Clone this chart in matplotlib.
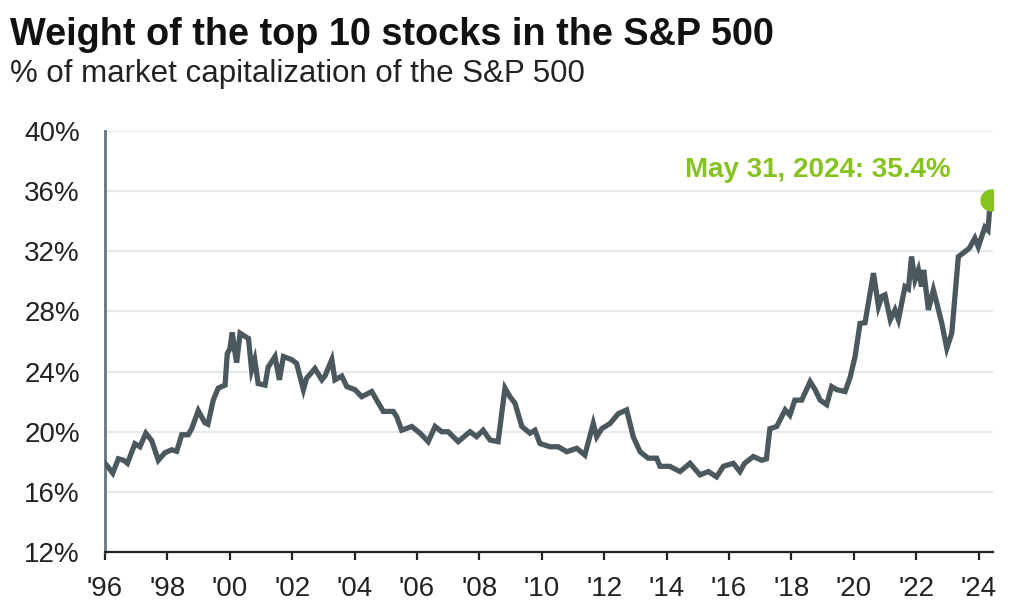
import matplotlib
matplotlib.use('Agg')
import matplotlib.pyplot as plt
import numpy as np

plt.rcParams['font.family'] = ['Liberation Sans', 'DejaVu Sans']

# decimal year / weight of top 10 stocks (% of S&P 500 market cap)
years = [1996.00, 1996.12, 1996.25, 1996.43, 1996.60, 1996.72, 1996.96, 1997.12, 1997.31, 1997.50,
         1997.71, 1997.92, 1998.14, 1998.30, 1998.46, 1998.67, 1998.78, 1998.99, 1999.20, 1999.30,
         1999.47, 1999.63, 1999.85, 1999.92, 2000.00, 2000.08, 2000.15, 2000.22, 2000.33, 2000.44,
         2000.60, 2000.70, 2000.80, 2000.91, 2001.13, 2001.23, 2001.45, 2001.59, 2001.72, 2001.98,
         2002.14, 2002.36, 2002.46, 2002.73, 2002.95, 2003.05, 2003.27, 2003.37, 2003.59, 2003.75,
         2004.01, 2004.23, 2004.55, 2004.71, 2004.92, 2005.24, 2005.35, 2005.51, 2005.83, 2006.10,
         2006.36, 2006.58, 2006.79, 2007.00, 2007.32, 2007.70, 2007.91, 2008.12, 2008.34, 2008.60,
         2008.82, 2008.98, 2009.14, 2009.36, 2009.62, 2009.78, 2009.94, 2010.26, 2010.53, 2010.80,
         2011.12, 2011.38, 2011.65, 2011.76, 2011.92, 2012.19, 2012.45, 2012.72, 2012.93, 2013.15,
         2013.41, 2013.68, 2013.79, 2014.10, 2014.43, 2014.75, 2015.07, 2015.34, 2015.60, 2015.82,
         2016.14, 2016.35, 2016.50, 2016.78, 2017.05, 2017.20, 2017.31, 2017.53, 2017.69, 2017.80,
         2017.95, 2018.11, 2018.33, 2018.60, 2018.76, 2018.92, 2019.13, 2019.29, 2019.45, 2019.72,
         2019.88, 2020.04, 2020.20, 2020.36, 2020.47, 2020.63, 2020.79, 2020.90, 2021.00, 2021.17,
         2021.32, 2021.43, 2021.64, 2021.75, 2021.85, 2021.96, 2022.07, 2022.17, 2022.24, 2022.39,
         2022.55, 2022.66, 2022.82, 2022.98, 2023.14, 2023.24, 2023.35, 2023.56, 2023.70, 2023.88,
         2023.99, 2024.10, 2024.20, 2024.30, 2024.36, 2024.41]
weights = [17.9, 17.6, 17.25, 18.2, 18.1, 17.9, 19.2, 19.0, 19.9, 19.4,
           18.1, 18.6, 18.8, 18.7, 19.8, 19.8, 20.2, 21.4, 20.6, 20.5,
           22.1, 22.9, 23.1, 25.2, 25.5, 26.6, 25.5, 24.6, 26.55, 26.4,
           26.2, 24.1, 24.8, 23.2, 23.1, 24.3, 25.0, 23.45, 25.0, 24.8,
           24.55, 22.8, 23.55, 24.2, 23.45, 23.7, 24.8, 23.45, 23.7, 23.0,
           22.8, 22.33, 22.67, 22.1, 21.35, 21.35, 21.0, 20.1, 20.35, 19.9,
           19.34, 20.35, 20.0, 20.0, 19.34, 20.0, 19.67, 20.1, 19.45, 19.34,
           22.9, 22.33, 21.9, 20.35, 19.9, 20.1, 19.22, 19.0, 19.0, 18.67,
           18.9, 18.45, 20.55, 19.67, 20.2, 20.55, 21.2, 21.45, 19.67, 18.67,
           18.24, 18.24, 17.7, 17.7, 17.35, 17.9, 17.13, 17.35, 17.0, 17.7,
           17.9, 17.35, 17.9, 18.35, 18.1, 18.2, 20.2, 20.35, 21.0, 21.45,
           21.1, 22.1, 22.1, 23.33, 22.8, 22.1, 21.8, 23.0, 22.8, 22.67,
           23.6, 25.0, 27.2, 27.25, 28.6, 30.55, 28.33, 29.0, 29.1, 27.45,
           28.1, 27.45, 29.65, 29.5, 31.65, 30.1, 30.76, 29.65, 30.76, 28.1,
           29.43, 28.55, 27.2, 25.55, 26.55, 28.97, 31.64, 31.97, 32.2, 32.87,
           32.3, 32.97, 33.6, 33.4, 34.97, 35.4]

x_ticks = list(range(1996, 2025, 2))
x_labels = ["'" + str(y)[2:] for y in x_ticks]
y_ticks = list(range(12, 41, 4))
y_labels = [str(v) + '%' for v in y_ticks]

last_label = 'May 31, 2024: 35.4%'

line_col = '#4b585e'
green = '#86c31f'

fig = plt.figure(figsize=(10.24, 6.12), dpi=100)
ax = fig.add_axes([0.1025, 0.098, 0.8672, 0.688])

ax.plot(years, weights, color=line_col, lw=3.8, solid_joinstyle='miter', zorder=3)
ax.plot(years[-1], weights[-1], 'o', color=green, ms=15, zorder=4)
ax.text(2018.85, 37.4, last_label, color=green, fontsize=20, fontweight='bold',
        ha='center', va='center')

ax.set_xlim(1996, 2024.46)
ax.set_ylim(12, 40)
ax.set_xticks(x_ticks)
ax.set_xticklabels(x_labels)
ax.set_yticks(y_ticks)
ax.set_yticklabels(y_labels)

ax.grid(axis='y', color='#e4eaed', lw=1.6, zorder=0)
ax.set_axisbelow(True)

for s in ['top', 'right']:
    ax.spines[s].set_visible(False)
ax.spines['left'].set_color('#66767c')
ax.spines['left'].set_linewidth(2.0)
ax.spines['bottom'].set_color('#222222')
ax.spines['bottom'].set_linewidth(1.6)

ax.tick_params(axis='y', length=0, pad=18, labelsize=20, labelcolor='#222222')
ax.tick_params(axis='x', length=6, width=1.6, color='#222222', direction='out',
               pad=11, labelsize=20, labelcolor='#222222')

fig.text(0.0098, 0.926, 'Weight of the top 10 stocks in the S&P 500', fontsize=27.3,
         fontweight='bold', color='#111111', va='baseline', ha='left')
fig.text(0.0098, 0.866, '% of market capitalization of the S&P 500', fontsize=22.5,
         color='#222222', va='baseline', ha='left')

plt.savefig('out.png', dpi=100)
